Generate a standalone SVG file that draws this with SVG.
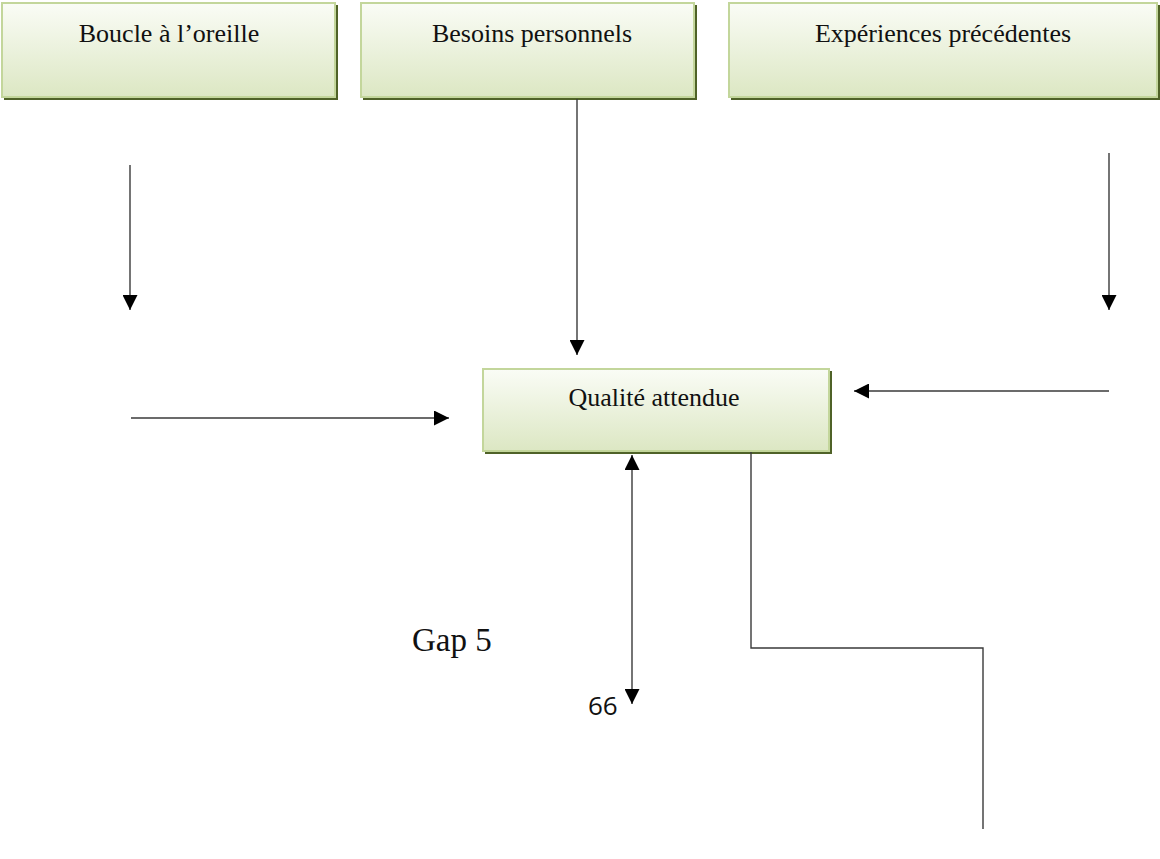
<svg xmlns="http://www.w3.org/2000/svg" width="1160" height="859" viewBox="0 0 1160 859">
  <defs>
    <linearGradient id="boxFill" x1="0" y1="0" x2="0" y2="1">
      <stop offset="0" stop-color="#fafcf6"/>
      <stop offset="1" stop-color="#dce7c3"/>
    </linearGradient>
    <marker id="arrow" viewBox="0 0 10 10" refX="10" refY="5" markerWidth="15" markerHeight="15" markerUnits="userSpaceOnUse" orient="auto-start-reverse">
      <path d="M0,0 L10,5 L0,10 Z" fill="#000"/>
    </marker>
    <style>
      .shadow { fill: #4f6228; }
      .box { fill: url(#boxFill); stroke: #c3d69b; stroke-width: 2; }
      .label { font-family: "Liberation Serif", "Times New Roman", serif; font-size: 26px; fill: #111; text-anchor: middle; }
      .conn { fill: none; stroke: #3a3a3a; stroke-width: 1.4; }
    </style>
  </defs>

  <rect width="1160" height="859" fill="#fff"/>

  <g id="node-boucle">
    <rect class="shadow" x="4" y="5" width="334" height="95"/>
    <rect class="box" x="2" y="3" width="333" height="94"/>
    <text class="label" x="169" y="42">Boucle à l’oreille</text>
  </g>

  <g id="node-besoins">
    <rect class="shadow" x="363" y="5" width="334" height="95"/>
    <rect class="box" x="361" y="3" width="333" height="94"/>
    <text class="label" x="532" y="42">Besoins personnels</text>
  </g>

  <g id="node-experiences">
    <rect class="shadow" x="731" y="5" width="429" height="95"/>
    <rect class="box" x="729" y="3" width="428" height="94"/>
    <text class="label" x="943" y="42">Expériences précédentes</text>
  </g>

  <g id="node-qualite">
    <rect class="shadow" x="485" y="371" width="347" height="83"/>
    <rect class="box" x="483" y="369" width="346" height="82"/>
    <text class="label" x="654" y="406">Qualité attendue</text>
  </g>

  <g id="connectors">
    <line class="conn" x1="130" y1="165" x2="130" y2="310" marker-end="url(#arrow)"/>
    <line class="conn" x1="131" y1="418" x2="449" y2="418" marker-end="url(#arrow)"/>
    <line class="conn" x1="577" y1="99" x2="577" y2="355" marker-end="url(#arrow)"/>
    <line class="conn" x1="1109" y1="153" x2="1109" y2="310" marker-end="url(#arrow)"/>
    <line class="conn" x1="1109" y1="391" x2="854" y2="391" marker-end="url(#arrow)"/>
    <line class="conn" x1="632" y1="455" x2="632" y2="704" marker-start="url(#arrow)" marker-end="url(#arrow)"/>
    <polyline class="conn" points="751,452 751,648 983,648 983,829"/>
  </g>

  <text x="412" y="651" font-family="Liberation Serif, Times New Roman, serif" font-size="33" fill="#111">Gap 5</text>
  <text x="588" y="715" font-family="Open Sans, Liberation Sans, sans-serif" font-size="26" fill="#111">66</text>
</svg>
